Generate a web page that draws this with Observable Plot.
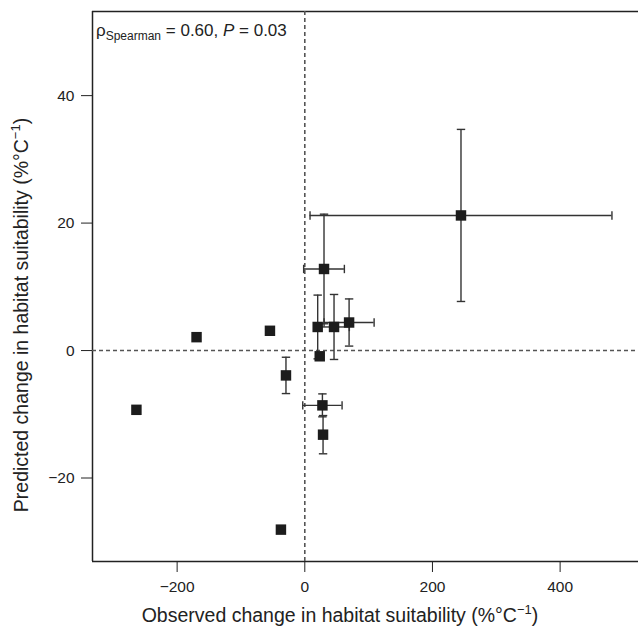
<!DOCTYPE html>
<html>
<head>
<meta charset="utf-8">
<script src="https://cdn.jsdelivr.net/npm/d3@7"></script>
<script src="https://cdn.jsdelivr.net/npm/@observablehq/plot@0.6"></script>
<style>
  html, body { margin: 0; padding: 0; background: #fff; }
  #chart { width: 639px; height: 629px; }
</style>
</head>
<body>
<div id="chart"></div>
<script>
// Observed (x) and predicted (y) change in habitat suitability, %/°C
const obsX  = [244.7, 30.1, 20.2, 23.4, 45.8, 69.4, -29.5, 27.6, 28.6, -169.6, -54.6, -263.8, -37.4];
const predY = [21.2, 12.8, 3.7, -0.9, 3.7, 4.4, -3.9, -8.6, -13.2, 2.1, 3.1, -9.3, -28.1];
// Half-widths of the error bars (null = none drawn)
const xErr  = [236.5, 31.9, null, null, 24, 39.2, null, 30.8, null, null, null, null, null];
const yErr  = [13.5, 8.6, 5.0, null, 5.1, 3.7, 2.85, 1.8, 3.0, null, null, null, null];
const xTicks = [-200, 0, 200, 400];
const yTicks = [-20, 0, 20, 40];
const xDomain = [-332.6, 522.8];
const yDomain = [-33.1, 53.2];

const idx = d3.range(obsX.length);
const withY = idx.filter(i => yErr[i] != null);
const withX = idx.filter(i => xErr[i] != null);

// cap data
const hCaps = withY.flatMap(i => [
  {x: obsX[i], y: predY[i] - yErr[i]},
  {x: obsX[i], y: predY[i] + yErr[i]}
]);
const vCaps = withX.flatMap(i => [
  {x: obsX[i] - xErr[i], y: predY[i]},
  {x: obsX[i] + xErr[i], y: predY[i]}
]);
const hLine = {draw(ctx, size) { const r = Math.sqrt(size / Math.PI); ctx.moveTo(-r, 0); ctx.lineTo(r, 0); }};
const vLine = {draw(ctx, size) { const r = Math.sqrt(size / Math.PI); ctx.moveTo(0, -r); ctx.lineTo(0, r); }};

const barColor = "#333";
const W = 639, H = 629, mL = 92, mR = 1, mT = 11, mB = 68;
const font = "'Liberation Sans', Arial, Helvetica, sans-serif";

const plot = Plot.plot({
  width: W, height: H,
  marginLeft: mL, marginRight: mR, marginTop: mT, marginBottom: mB,
  style: {fontFamily: font, fontSize: "15.5px", color: "#222", background: "#fff"},
  x: {domain: xDomain, ticks: xTicks, tickSize: 11, tickPadding: 8, label: null},
  y: {domain: yDomain, ticks: yTicks, tickSize: 11, tickPadding: 7, label: null},
  marks: [
    // frame (left, top, bottom)
    Plot.ruleX([xDomain[0]], {stroke: "#222", strokeWidth: 1.5}),
    Plot.ruleY([yDomain[0], yDomain[1]], {stroke: "#222", strokeWidth: 1.5}),
    // zero reference lines
    Plot.ruleX([0], {stroke: "#555", strokeWidth: 1.6, strokeDasharray: "4,3"}),
    Plot.ruleY([0], {stroke: "#555", strokeWidth: 1.6, strokeDasharray: "4,3"}),
    // error bars
    Plot.ruleX(withY, {x: i => obsX[i], y1: i => predY[i] - yErr[i], y2: i => predY[i] + yErr[i], stroke: barColor, strokeWidth: 1.4}),
    Plot.ruleY(withX, {y: i => predY[i], x1: i => obsX[i] - xErr[i], x2: i => obsX[i] + xErr[i], stroke: barColor, strokeWidth: 1.4}),
    Plot.dot(hCaps, {x: "x", y: "y", symbol: hLine, r: 4.2, stroke: barColor, strokeWidth: 1.4, fill: "none"}),
    Plot.dot(vCaps, {x: "x", y: "y", symbol: vLine, r: 4.2, stroke: barColor, strokeWidth: 1.4, fill: "none"}),
    // points
    Plot.dot(idx, {x: i => obsX[i], y: i => predY[i], symbol: "square", r: 5.9, fill: "#1c1c1c", stroke: "none"})
  ]
});

document.getElementById("chart").appendChild(plot);

const svg = d3.select(plot);

// annotation
const ann = svg.append("text")
  .attr("x", mL + 4).attr("y", mT + 25).attr("text-anchor", "start")
  .attr("font-family", font).attr("font-size", 17).attr("fill", "#222");
ann.append("tspan").text("ρ");
ann.append("tspan").attr("font-size", 12).attr("dy", 4).text("Spearman");
ann.append("tspan").attr("dy", -4).text(" = 0.60, ");
ann.append("tspan").attr("font-style", "italic").text("P");
ann.append("tspan").text(" = 0.03");

// x axis label
const xl = svg.append("text")
  .attr("x", 340).attr("y", 622).attr("text-anchor", "middle")
  .attr("font-family", font).attr("font-size", 19.5).attr("fill", "#222");
xl.append("tspan").text("Observed change in habitat suitability (%°C");
xl.append("tspan").attr("font-size", 13).attr("dy", -8).text("−1");
xl.append("tspan").attr("dy", 8).text(")");

// y axis label
const yl = svg.append("text")
  .attr("transform", "translate(28,315) rotate(-90)").attr("text-anchor", "middle")
  .attr("font-family", font).attr("font-size", 19.5).attr("fill", "#222");
yl.append("tspan").text("Predicted change in habitat suitability (%°C");
yl.append("tspan").attr("font-size", 13).attr("dy", -8).text("−1");
yl.append("tspan").attr("dy", 8).text(")");
</script>
</body>
</html>
